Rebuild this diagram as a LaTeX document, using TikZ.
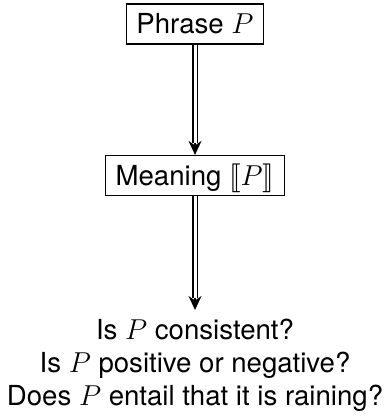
\documentclass[tikz,border=0pt]{standalone}
\usepackage{fontspec}
\setmainfont{TeX Gyre Heros}
\usepackage{stmaryrd}
\usetikzlibrary{arrows.meta,positioning}

\begin{document}
\begin{tikzpicture}[
    font=\fontsize{13.8}{16.4}\selectfont,
    box/.style={rectangle, draw, line width=0.7pt, inner xsep=5pt, inner ysep=5pt, text height=9.9pt, text depth=0pt},
    shaft/.style={double, double distance=1.5pt, line width=0.75pt},
    tip/.style={-{Stealth[length=7pt, width=6.5pt]}, line width=0.75pt}
]
    \useasboundingbox (0,0) rectangle (192.5pt,-208pt);

    % Boxes
    \node[box] (phrase) at (97.5pt,-12pt) {Phrase $P$};
    \node[box] (meaning) at (97.5pt,-87.75pt) {Meaning $\llbracket P\rrbracket$};

    % Questions
    \node[align=center, anchor=north, inner sep=4.5pt] (questions) at (97.5pt,-155pt)
        {Is $P$ consistent?\\Is $P$ positive or negative?\\Does $P$ entail that it is raining?};

    % Arrows
    \coordinate[above=6pt of meaning.north] (meaningtop);
    \coordinate[above=6pt of questions.north] (questionstop);
    \draw[shaft] (phrase) -- (meaningtop);
    \draw[tip] (meaningtop) -- (meaning);
    \draw[shaft] (meaning) -- (questionstop);
    \draw[tip] (questionstop) -- (questions);
\end{tikzpicture}
\end{document}
